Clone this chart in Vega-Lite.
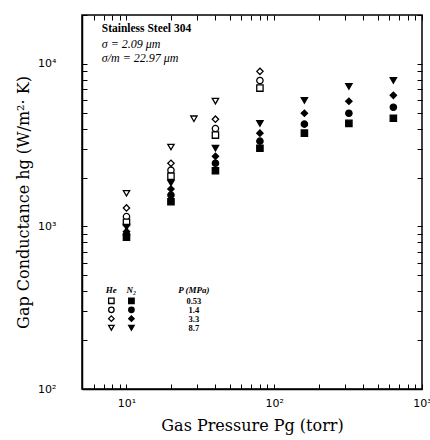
{
  "$schema": "https://vega.github.io/schema/vega-lite/v6.json",
  "autosize": "none",
  "width": 340,
  "height": 374,
  "padding": {"left": 82, "top": 15, "right": 8, "bottom": 51},
  "background": "white",
  "config": {
    "view": {"stroke": "black", "strokeWidth": 1.5}
  },
  "datasets": {
    "pts": [
      {"P": 10, "h": 1600, "gas": "He", "MPa": "8.7"},
      {"P": 10, "h": 1300, "gas": "He", "MPa": "3.3"},
      {"P": 10, "h": 1150, "gas": "He", "MPa": "1.4"},
      {"P": 10, "h": 1060, "gas": "He", "MPa": "0.53"},
      {"P": 10, "h": 990, "gas": "N2", "MPa": "8.7"},
      {"P": 10, "h": 930, "gas": "N2", "MPa": "3.3"},
      {"P": 10, "h": 890, "gas": "N2", "MPa": "1.4"},
      {"P": 10, "h": 860, "gas": "N2", "MPa": "0.53"},
      {"P": 20, "h": 3080, "gas": "He", "MPa": "8.7"},
      {"P": 20, "h": 2450, "gas": "He", "MPa": "3.3"},
      {"P": 20, "h": 2220, "gas": "He", "MPa": "1.4"},
      {"P": 20, "h": 2040, "gas": "He", "MPa": "0.53"},
      {"P": 20, "h": 1850, "gas": "N2", "MPa": "8.7"},
      {"P": 20, "h": 1700, "gas": "N2", "MPa": "3.3"},
      {"P": 20, "h": 1560, "gas": "N2", "MPa": "1.4"},
      {"P": 20, "h": 1420, "gas": "N2", "MPa": "0.53"},
      {"P": 28.6, "h": 4600, "gas": "He", "MPa": "8.7"},
      {"P": 40, "h": 5900, "gas": "He", "MPa": "8.7"},
      {"P": 40, "h": 4570, "gas": "He", "MPa": "3.3"},
      {"P": 40, "h": 4000, "gas": "He", "MPa": "1.4"},
      {"P": 40, "h": 3650, "gas": "He", "MPa": "0.53"},
      {"P": 40, "h": 3030, "gas": "N2", "MPa": "8.7"},
      {"P": 40, "h": 2700, "gas": "N2", "MPa": "3.3"},
      {"P": 40, "h": 2450, "gas": "N2", "MPa": "1.4"},
      {"P": 40, "h": 2200, "gas": "N2", "MPa": "0.53"},
      {"P": 80, "h": 9000, "gas": "He", "MPa": "3.3"},
      {"P": 80, "h": 7900, "gas": "He", "MPa": "1.4"},
      {"P": 80, "h": 7100, "gas": "He", "MPa": "0.53"},
      {"P": 80, "h": 4300, "gas": "N2", "MPa": "8.7"},
      {"P": 80, "h": 3750, "gas": "N2", "MPa": "3.3"},
      {"P": 80, "h": 3350, "gas": "N2", "MPa": "1.4"},
      {"P": 80, "h": 3030, "gas": "N2", "MPa": "0.53"},
      {"P": 160, "h": 5970, "gas": "N2", "MPa": "8.7"},
      {"P": 160, "h": 4970, "gas": "N2", "MPa": "3.3"},
      {"P": 160, "h": 4260, "gas": "N2", "MPa": "1.4"},
      {"P": 160, "h": 3750, "gas": "N2", "MPa": "0.53"},
      {"P": 320, "h": 7280, "gas": "N2", "MPa": "8.7"},
      {"P": 320, "h": 5890, "gas": "N2", "MPa": "3.3"},
      {"P": 320, "h": 4970, "gas": "N2", "MPa": "1.4"},
      {"P": 320, "h": 4310, "gas": "N2", "MPa": "0.53"},
      {"P": 640, "h": 7920, "gas": "N2", "MPa": "8.7"},
      {"P": 640, "h": 6410, "gas": "N2", "MPa": "3.3"},
      {"P": 640, "h": 5410, "gas": "N2", "MPa": "1.4"},
      {"P": 640, "h": 4630, "gas": "N2", "MPa": "0.53"}
    ],
    "legpts": [
      {"P": 7.9, "h": 349, "gas": "He", "MPa": "0.53"},
      {"P": 10.8, "h": 349, "gas": "N2", "MPa": "0.53"},
      {"P": 7.9, "h": 307, "gas": "He", "MPa": "1.4"},
      {"P": 10.8, "h": 307, "gas": "N2", "MPa": "1.4"},
      {"P": 7.9, "h": 271, "gas": "He", "MPa": "3.3"},
      {"P": 10.8, "h": 271, "gas": "N2", "MPa": "3.3"},
      {"P": 7.9, "h": 238, "gas": "He", "MPa": "8.7"},
      {"P": 10.8, "h": 238, "gas": "N2", "MPa": "8.7"}
    ],
    "leghead": [
      {"P": 7.9, "h": 405, "t": "He"},
      {"P": 10.8, "h": 405, "t": "N₂"},
      {"P": 28.6, "h": 405, "t": "P (MPa)"}
    ],
    "legval": [
      {"P": 28.6, "h": 349, "t": "0.53"},
      {"P": 28.6, "h": 307, "t": "1.4"},
      {"P": 28.6, "h": 271, "t": "3.3"},
      {"P": 28.6, "h": 238, "t": "8.7"}
    ],
    "notebold": [
      {"P": 6.8, "h": 16300, "t": "Stainless Steel 304"}
    ],
    "note": [
      {"P": 6.8, "h": 13200, "t": "σ  =  2.09 μm"},
      {"P": 6.8, "h": 10800, "t": "σ/m  =  22.97 μm"}
    ]
  },
  "resolve": {"axis": {"x": "independent", "y": "independent"}},
  "layer": [
    {
      "data": {"name": "pts"},
      "mark": {"type": "point", "size": 40, "stroke": "black", "strokeWidth": 1.3, "opacity": 1},
      "encoding": {
        "x": {
          "field": "P", "type": "quantitative",
          "scale": {"type": "log", "domain": [5, 1000], "nice": false},
          "axis": {
            "orient": "bottom", "grid": false, "domainColor": "black", "domainWidth": 1.5,
            "values": [6, 7, 8, 9, 10, 20, 30, 40, 50, 60, 70, 80, 90, 100, 200, 300, 400, 500, 600, 700, 800, 900, 1000],
            "labelExpr": "datum.value == 10 ? '10¹' : datum.value == 100 ? '10²' : datum.value == 1000 ? '10³' : ''",
            "tickSize": -5, "tickColor": "black", "tickWidth": 1,
            "labelPadding": 13, "labelColor": "black",
            "labelFont": "DejaVu Sans", "labelFontSize": 11, "labelFlush": false, "labelOverlap": false,
            "title": "Gas Pressure Pg  (torr)", "titleColor": "black",
            "titleFont": "DejaVu Serif", "titleFontSize": 16, "titleFontWeight": "normal", "titlePadding": 9
          }
        },
        "y": {
          "field": "h", "type": "quantitative",
          "scale": {"type": "log", "domain": [100, 20000], "nice": false},
          "axis": {
            "orient": "left", "grid": false, "domainColor": "black", "domainWidth": 1.5,
            "values": [100, 200, 300, 400, 500, 600, 700, 800, 900, 1000, 2000, 3000, 4000, 5000, 6000, 7000, 8000, 9000, 10000, 20000],
            "labelExpr": "datum.value == 100 ? '10²' : datum.value == 1000 ? '10³' : datum.value == 10000 ? '10⁴' : ''",
            "tickSize": -5, "tickColor": "black", "tickWidth": 1,
            "labelPadding": 31, "labelColor": "black",
            "labelFont": "DejaVu Sans", "labelFontSize": 11, "labelFlush": false, "labelOverlap": false,
            "title": "Gap Conductance hg  (W/m²· K)", "titleColor": "black",
            "titleFont": "DejaVu Serif", "titleFontSize": 16, "titleFontWeight": "normal", "titlePadding": 6
          }
        },
        "shape": {"field": "MPa", "type": "nominal", "scale": {"domain": ["0.53", "1.4", "3.3", "8.7"], "range": ["square", "circle", "diamond", "triangle-down"]}, "legend": null},
        "fill": {"field": "gas", "type": "nominal", "scale": {"domain": ["He", "N2"], "range": ["white", "black"]}, "legend": null}
      }
    },
    {
      "data": {"name": "pts"},
      "mark": {"type": "point", "opacity": 0},
      "encoding": {
        "x": {"field": "P", "type": "quantitative", "axis": {"orient": "top", "grid": false, "values": [6, 7, 8, 9, 10, 20, 30, 40, 50, 60, 70, 80, 90, 100, 200, 300, 400, 500, 600, 700, 800, 900, 1000], "tickSize": -5, "tickColor": "black", "tickWidth": 1, "labels": false, "domain": false, "title": null}},
        "y": {"field": "h", "type": "quantitative", "axis": {"orient": "right", "grid": false, "values": [100, 200, 300, 400, 500, 600, 700, 800, 900, 1000, 2000, 3000, 4000, 5000, 6000, 7000, 8000, 9000, 10000, 20000], "tickSize": -5, "tickColor": "black", "tickWidth": 1, "labels": false, "domain": false, "title": null}}
      }
    },
    {
      "data": {"name": "legpts"},
      "mark": {"type": "point", "size": 30, "stroke": "black", "strokeWidth": 1.3, "opacity": 1},
      "encoding": {
        "x": {"field": "P", "type": "quantitative", "axis": null},
        "y": {"field": "h", "type": "quantitative", "axis": null},
        "shape": {"field": "MPa", "type": "nominal", "legend": null},
        "fill": {"field": "gas", "type": "nominal", "legend": null}
      }
    },
    {
      "data": {"name": "leghead"},
      "mark": {"type": "text", "font": "Liberation Serif", "fontSize": 9, "fontWeight": "bold", "fontStyle": "italic", "align": "center", "baseline": "middle", "color": "black"},
      "encoding": {
        "x": {"field": "P", "type": "quantitative", "axis": null},
        "y": {"field": "h", "type": "quantitative", "axis": null},
        "text": {"field": "t"}
      }
    },
    {
      "data": {"name": "legval"},
      "mark": {"type": "text", "font": "Liberation Serif", "fontSize": 8.5, "fontWeight": "bold", "align": "center", "baseline": "middle", "color": "black"},
      "encoding": {
        "x": {"field": "P", "type": "quantitative", "axis": null},
        "y": {"field": "h", "type": "quantitative", "axis": null},
        "text": {"field": "t"}
      }
    },
    {
      "data": {"name": "notebold"},
      "mark": {"type": "text", "font": "Liberation Serif", "fontSize": 11.5, "fontWeight": "bold", "align": "left", "baseline": "middle", "color": "black"},
      "encoding": {
        "x": {"field": "P", "type": "quantitative", "axis": null},
        "y": {"field": "h", "type": "quantitative", "axis": null},
        "text": {"field": "t"}
      }
    },
    {
      "data": {"name": "note"},
      "mark": {"type": "text", "font": "Liberation Serif", "fontSize": 12, "fontStyle": "italic", "align": "left", "baseline": "middle", "color": "black"},
      "encoding": {
        "x": {"field": "P", "type": "quantitative", "axis": null},
        "y": {"field": "h", "type": "quantitative", "axis": null},
        "text": {"field": "t"}
      }
    }
  ]
}
